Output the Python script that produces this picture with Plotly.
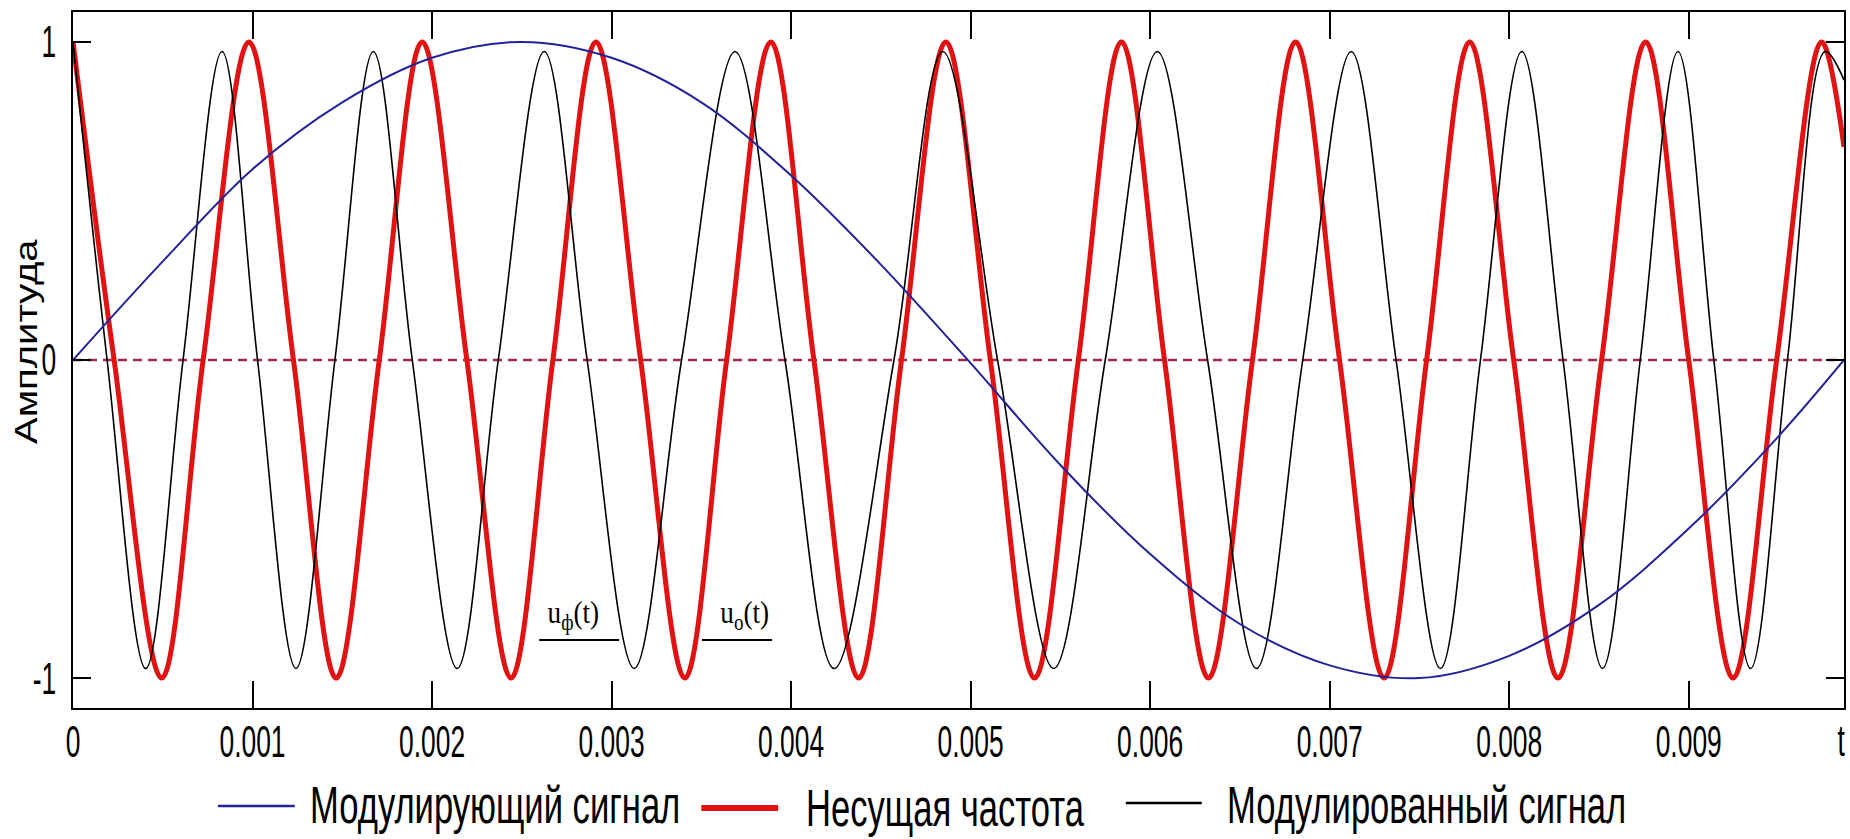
import plotly.graph_objects as go

# ---------------- data ----------------
x_max = 0.009865

# modulating signal (blue)
t_mod = [0.0, 0.0005, 0.0010, 0.0015, 0.0020, 0.0025, 0.0030, 0.0035, 0.0040,
         0.0045, 0.0050, 0.0055, 0.0060, 0.0065, 0.0070, 0.0075, 0.0080,
         0.0085, 0.0090, 0.0095, 0.009865]
u_mod = [0.0, 0.31, 0.60, 0.81, 0.95, 1.0, 0.95, 0.81, 0.58,
         0.30, -0.01, -0.33, -0.61, -0.83, -0.96, -1.0, -0.93,
         -0.77, -0.53, -0.24, 0.0]

# carrier (red): peaks, zero crossings, troughs
t_car = [0.0, 0.000229, 0.000494, 0.000725, 0.000980, 0.001228, 0.001466, 0.001706,
         0.001945, 0.002194, 0.002440, 0.002673, 0.002913, 0.003162, 0.003408, 0.003641,
         0.003887, 0.004127, 0.004376, 0.004615, 0.004862, 0.005110, 0.005356, 0.005600,
         0.005840, 0.006080, 0.006325, 0.006570, 0.006810, 0.007055, 0.007303, 0.007540,
         0.007780, 0.008025, 0.008272, 0.008515, 0.008760, 0.009000, 0.009247, 0.009490,
         0.009740, 0.009865]
u_car = [1, 0, -1, 0, 1, 0, -1, 0,
         1, 0, -1, 0, 1, 0, -1, 0,
         1, 0, -1, 0, 1, 0, -1, 0,
         1, 0, -1, 0, 1, 0, -1, 0,
         1, 0, -1, 0, 1, 0, -1, 0,
         1, 0.67]

# phase-modulated signal (black)
t_pm = [0.0, 0.000190, 0.000405, 0.000613, 0.000830, 0.001028, 0.001242, 0.001459,
        0.001673, 0.001890, 0.002140, 0.002369, 0.002625, 0.002864, 0.003126, 0.003390,
        0.003688, 0.003966, 0.004240, 0.004573, 0.004845, 0.005150, 0.005463, 0.005750,
        0.006040, 0.006320, 0.006592, 0.006850, 0.007120, 0.007370, 0.007617, 0.007840,
        0.008070, 0.008300, 0.008520, 0.008730, 0.008940, 0.009140, 0.009345, 0.009550,
        0.009760, 0.009865]
u_pm = [1, 0, -0.97, 0, 0.97, 0, -0.97, 0,
        0.97, 0, -0.97, 0, 0.97, 0, -0.97, 0,
        0.97, 0, -0.97, 0, 0.97, 0, -0.97, 0,
        0.97, 0, -0.97, 0, 0.97, 0, -0.97, 0,
        0.97, 0, -0.97, 0, 0.97, 0, -0.97, 0,
        0.97, 0.88]

# zero reference line
t_zero = [0.0, x_max]
u_zero = [0, 0]

x_ticks = [0, 0.001, 0.002, 0.003, 0.004, 0.005, 0.006, 0.007, 0.008, 0.009]
x_tick_labels = ["0", "0.001", "0.002", "0.003", "0.004", "0.005",
                 "0.006", "0.007", "0.008", "0.009"]
y_ticks = [-1, 0, 1]
y_tick_labels = ["-1", "0", "1"]

series_names = ["Модулирующий сигнал", "Несущая частота", "Модулированный сигнал"]
y_title = "Амплитуда"
x_title = "t"

# ---------------- styling ----------------
FONT = "Liberation Sans, Arial, sans-serif"
SERIF = "Liberation Serif, DejaVu Serif, Times New Roman, serif"
BLUE = "#22229a"
RED = "#e01212"
BLACK = "#000000"
ZERO = "#a02848"

W, H = 1850, 839
ML, MR, MT, MB = 73, 4, 12, 131
PW, PH = W - ML - MR, H - MT - MB


def px(x):
    return (x - ML) / PW


def py(y):
    return (H - MB - y) / PH


fig = go.Figure()
fig.add_trace(go.Scatter(x=t_zero, y=u_zero, mode="lines", showlegend=False,
                         line=dict(color=ZERO, width=2.5, dash="9px,6px")))
fig.add_trace(go.Scatter(x=t_car, y=u_car, mode="lines", name=series_names[1], showlegend=False,
                         line=dict(color=RED, width=5, shape="spline", smoothing=1.0)))
fig.add_trace(go.Scatter(x=t_pm, y=u_pm, mode="lines", name=series_names[2], showlegend=False,
                         line=dict(color=BLACK, width=1.6, shape="spline", smoothing=1.0)))
fig.add_trace(go.Scatter(x=t_mod, y=u_mod, mode="lines", name=series_names[0], showlegend=False,
                         line=dict(color=BLUE, width=2, shape="spline", smoothing=1.0)))

shapes = []
annotations = []

# manual legend (line samples + labels) -> annotation indices 0..2
legend_items = [
    (series_names[0], BLUE, 2.5, 218, 295, 806, 309, 805),
    (series_names[1], RED, 6, 702, 779, 808, 806, 808),
    (series_names[2], BLACK, 2.5, 1127, 1203, 803, 1227, 805),
]
for name, col, lw, x0, x1, yl, xt, yt in legend_items:
    shapes.append(dict(type="line", xref="paper", yref="paper",
                       x0=px(x0), x1=px(x1), y0=py(yl), y1=py(yl),
                       line=dict(color=col, width=lw)))
    annotations.append(dict(text=name, xref="paper", yref="paper", x=px(xt), y=py(yt),
                            xanchor="left", yanchor="middle", showarrow=False, borderpad=0,
                            font=dict(family=FONT, size=52, color="black")))

# axis titles -> indices 3, 4
annotations.append(dict(text=y_title, xref="paper", yref="paper", x=px(26), y=py(342),
                        xanchor="center", yanchor="middle", textangle=-90, showarrow=False,
                        font=dict(family=FONT, size=40, color="black")))
annotations.append(dict(text=x_title, xref="paper", yref="paper", x=px(1843), y=py(741),
                        xanchor="center", yanchor="middle", showarrow=False,
                        font=dict(family=FONT, size=44, color="black")))

# signal labels with underlines -> indices 5, 6
annotations.append(dict(text="u<sub>ф</sub>(t)", x=0.00279, y=-0.80, xref="x", yref="y",
                        showarrow=False, font=dict(family=SERIF, size=32, color="black")))
annotations.append(dict(text="u<sub>o</sub>(t)", x=0.003743, y=-0.80, xref="x", yref="y",
                        showarrow=False, font=dict(family=SERIF, size=32, color="black")))
shapes.append(dict(type="line", xref="x", yref="y", x0=0.002597, x1=0.003042, y0=-0.88, y1=-0.88,
                   line=dict(color="black", width=2)))
shapes.append(dict(type="line", xref="x", yref="y", x0=0.003504, x1=0.003894, y0=-0.88, y1=-0.88,
                   line=dict(color="black", width=2)))

fig.update_layout(
    width=W, height=H, autosize=False,
    margin=dict(l=ML, r=MR, t=MT, b=MB),
    paper_bgcolor="white", plot_bgcolor="white",
    showlegend=False,
    shapes=shapes, annotations=annotations,
    xaxis=dict(range=[0, x_max], tickvals=x_ticks, ticktext=x_tick_labels,
               ticks="inside", ticklen=27, tickwidth=2, tickcolor="black",
               showline=True, linewidth=2, linecolor="black", mirror="ticks",
               showgrid=False, zeroline=False, ticklabelstandoff=-6,
               tickfont=dict(family=FONT, size=44, color="black")),
    yaxis=dict(range=[-1.094, 1.094], tickvals=y_ticks, ticktext=y_tick_labels,
               ticks="inside", ticklen=18, tickwidth=2, tickcolor="black",
               showline=True, linewidth=2, linecolor="black", mirror="ticks",
               showgrid=False, zeroline=False, ticklabelstandoff=6,
               tickfont=dict(family=FONT, size=44, color="black")),
)

# The reference uses a tall, condensed typeface: squeeze the glyphs horizontally.
post_script = """
var gd = document.getElementById('{plot_id}');
function sq(el, kx, ky, mode) {
  if (!el || el.getAttribute('data-sq')) return;
  var b = el.getBBox();
  var a = mode || el.getAttribute('text-anchor') || 'start';
  var ax = (a === 'middle') ? b.x + b.width / 2 : ((a === 'end') ? b.x + b.width : b.x);
  var ay = b.y + b.height / 2;
  var t = el.getAttribute('transform') || '';
  el.setAttribute('transform', t + ' translate(' + ax + ',' + ay + ') scale(' + kx + ',' + ky +
                  ') translate(' + (-ax) + ',' + (-ay) + ')');
  el.setAttribute('data-sq', '1');
}
function ann(i) { return gd.querySelector('g.annotation[data-index="' + i + '"] text.annotation-text'); }
function run() {
  gd.querySelectorAll('g.xtick text').forEach(function (el) { sq(el, 0.6, 1, 'middle'); });
  gd.querySelectorAll('g.ytick text').forEach(function (el) { sq(el, 0.6, 1, 'end'); });
  [0, 1, 2].forEach(function (i) { sq(ann(i), 0.665, 1, 'start'); });
  sq(ann(3), 1, 0.8, 'middle');
  sq(ann(4), 0.6, 1, 'middle');
  [5, 6].forEach(function (i) { sq(ann(i), 0.85, 1, 'middle'); });
}
run();
setTimeout(run, 300);
"""

fig.write_html("out.html", include_plotlyjs=True, config={"displayModeBar": False},
               post_script=post_script)
